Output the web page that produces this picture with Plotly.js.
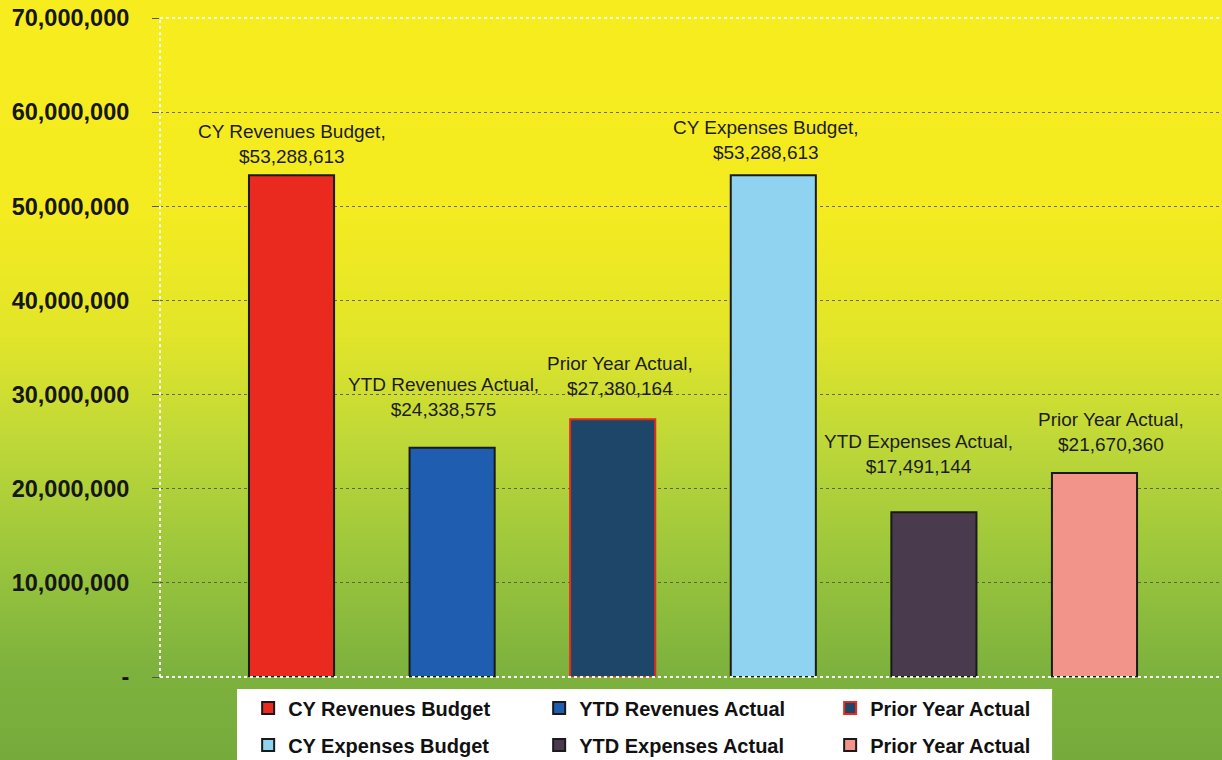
<!DOCTYPE html>
<html>
<head>
<meta charset="utf-8">
<script src="https://cdn.plot.ly/plotly-3.0.1.min.js"></script>
<style>
  html, body { margin: 0; padding: 0; }
  body {
    width: 1222px; height: 760px; overflow: hidden;
    background: linear-gradient(to bottom,
      #f7ed1e 0%, #f4eb20 28%, #e2e529 44%, #bfd838 58%, #9cc63c 73%, #7eb23e 88%, #76ab3c 100%);
  }
  #chart { width: 1222px; height: 760px; }
</style>
</head>
<body>
<div id="chart"></div>
<script>
// ---- data ----
const categories = ['CY Revenues Budget', 'YTD Revenues Actual', 'Prior Year Actual',
                    'CY Expenses Budget', 'YTD Expenses Actual', 'Prior Year Actual'];
const values = [53288613, 24338575, 27380164, 53288613, 17491144, 21670360];
const yTickValues = [0, 10000000, 20000000, 30000000, 40000000, 50000000, 60000000, 70000000];
const yTickLabels = ['-', '10,000,000', '20,000,000', '30,000,000', '40,000,000',
                     '50,000,000', '60,000,000', '70,000,000'];

// ---- styles ----
const fillColors = ['#ea2a1f', '#1f5db0', '#1d4669', '#8fd3f0', '#4a3a4e', '#f3948b'];
const lineColors = ['#1a1a1a', '#1a1a1a', '#e8291e', '#1a1a1a', '#1a1a1a', '#1a1a1a'];
const labelShiftX = [0, -9, 7, -7, -15, 17];
const labelShiftY = [6, 26, 18, 10, 33, 16];
const FONT = 'Liberation Sans, Arial, sans-serif';

const traces = categories.map((name, i) => ({
  type: 'bar',
  x: [i],
  y: [values[i]],
  name: name,
  width: 0.53,
  marker: { color: fillColors[i], line: { color: lineColors[i], width: 2 } },
  legend: i < 3 ? 'legend' : 'legend2',
  hoverinfo: 'skip'
}));

const annotations = categories.map((name, i) => ({
  x: i,
  y: values[i],
  xref: 'x', yref: 'y',
  text: name + ',<br>$' + values[i].toLocaleString('en-US'),
  showarrow: false,
  xanchor: 'center', yanchor: 'bottom',
  xshift: labelShiftX[i], yshift: labelShiftY[i],
  font: { family: FONT, size: 19, color: '#1c1c1c' }
}));

const legendCommon = {
  orientation: 'h',
  xanchor: 'left', yanchor: 'middle',
  x: 0.083,
  entrywidth: 246, entrywidthmode: 'pixels',
  bgcolor: 'rgba(0,0,0,0)',
  font: { family: FONT, size: 20, color: '#111', weight: 'bold' },
  traceorder: 'normal'
};

const layout = {
  width: 1222, height: 760,
  margin: { l: 160, r: 0, t: 18, b: 83, autoexpand: false },
  paper_bgcolor: 'rgba(0,0,0,0)',
  plot_bgcolor: 'rgba(0,0,0,0)',
  barmode: 'overlay',
  showlegend: true,
  xaxis: {
    range: [-0.819, 5.794],
    showticklabels: false, showgrid: false, zeroline: false, ticks: '',
    fixedrange: true
  },
  yaxis: {
    range: [0, 70000000],
    tickvals: yTickValues,
    ticktext: yTickLabels,
    ticks: 'outside', ticklen: 7, tickcolor: '#555', tickwidth: 1,
    ticklabelstandoff: 18,
    showgrid: true, gridcolor: 'rgba(70,70,50,0.75)', griddash: 'dot', gridwidth: 1,
    zeroline: false,
    tickfont: { family: FONT, size: 23.5, color: '#161616', weight: 'bold' },
    fixedrange: true
  },
  legend: Object.assign({}, legendCommon, { y: -0.047 }),
  legend2: Object.assign({}, legendCommon, { y: -0.103 }),
  shapes: [
    { type: 'rect', xref: 'paper', yref: 'paper', x0: 0.0725, x1: 0.84, y0: -0.0182, y1: -0.2,
      fillcolor: '#ffffff', line: { width: 0 }, layer: 'above' },
    { type: 'line', xref: 'paper', yref: 'paper', x0: 0, x1: 0, y0: 0, y1: 1,
      line: { color: 'rgba(255,255,255,0.95)', width: 2, dash: 'dot' } },
    { type: 'line', xref: 'paper', yref: 'paper', x0: 0, x1: 1, y0: 0, y1: 0,
      line: { color: 'rgba(255,255,255,0.95)', width: 2, dash: 'dot' } },
    { type: 'line', xref: 'paper', yref: 'paper', x0: 0, x1: 1, y0: 1, y1: 1,
      line: { color: 'rgba(255,255,255,0.9)', width: 2, dash: 'dot' } }
  ],
  annotations: annotations
};

Plotly.newPlot('chart', traces, layout, { displayModeBar: false, staticPlot: true });
</script>
</body>
</html>
